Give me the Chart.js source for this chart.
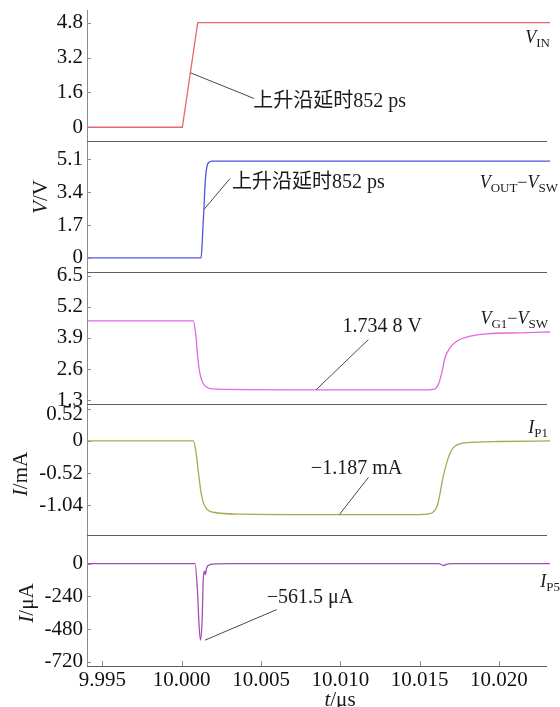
<!DOCTYPE html>
<html><head><meta charset="utf-8">
<script src="https://cdn.jsdelivr.net/npm/chart.js@4"></script>
<style>html,body{margin:0;padding:0;background:#fff}canvas{display:block}</style>
</head><body>
<canvas id="c" width="560" height="707"></canvas>
<script>
// ---------- data (time in µs) ----------
const tVin  = [9.994, 10.00004, 10.00101, 10.0235];
const vVin  = [0, 0, 4.8, 4.8];

const tVout = [9.994, 10.00122, 10.00128, 10.00134, 10.00140, 10.00146, 10.00152, 10.00160, 10.00170, 10.00190, 10.0235];
const vVout = [0, 0, 0.6, 1.6, 2.5, 3.6, 4.3, 4.75, 4.93, 5.0, 5.0];

const tVg1  = [9.994, 10.00073, 10.0009, 10.00099, 10.00111, 10.00126, 10.00158, 10.0022, 10.0068, 10.0155, 10.01587, 10.01618, 10.0164, 10.0166, 10.01692, 10.01734, 10.01818, 10.01923, 10.02133, 10.0235];
const vVg1  = [4.61, 4.61, 3.96, 3.26, 2.56, 2.14, 1.84, 1.76, 1.735, 1.735, 1.75, 1.96, 2.45, 3.07, 3.49, 3.76, 3.97, 4.07, 4.11, 4.15];

const tIp1  = [9.994, 10.00073, 10.0009, 10.00105, 10.0012, 10.00136, 10.00158, 10.002, 10.00368, 10.0085, 10.0150, 10.01545, 10.01608, 10.0165, 10.01681, 10.01713, 10.01797, 10.020, 10.0235];
const vIp1  = [0, 0, -0.18, -0.50, -0.80, -0.99, -1.10, -1.15, -1.18, -1.187, -1.187, -1.18, -1.07, -0.56, -0.27, -0.11, -0.03, -0.01, 0];

const tIp5  = [9.994, 10.00084, 10.00099, 10.00109, 10.00118, 10.00128, 10.00136, 10.00143, 10.00149, 10.00158, 10.00178, 10.0022, 10.003, 10.0162, 10.0165, 10.0168, 10.0172, 10.0235];
const vIp5  = [0, 0, -192, -440, -561.5, -438, -117, -55, -80, -30, -8, -2, 0, 0, -14, -2, 0, 0];

// ---------- ticks ----------
const xTicks = [9.995, 10.000, 10.005, 10.010, 10.015, 10.020];
const xTickLabels = ['9.995', '10.000', '10.005', '10.010', '10.015', '10.020'];
const vinTicks = [0, 1.6, 3.2, 4.8];        const vinTickLabels = ['0', '1.6', '3.2', '4.8'];
const voutTicks = [0, 1.7, 3.4, 5.1];       const voutTickLabels = ['0', '1.7', '3.4', '5.1'];
const vg1Ticks = [1.3, 2.6, 3.9, 5.2, 6.5]; const vg1TickLabels = ['1.3', '2.6', '3.9', '5.2', '6.5'];
const ip1Ticks = [-1.04, -0.52, 0, 0.52];   const ip1TickLabels = ['-1.04', '-0.52', '0', '0.52'];
const ip5Ticks = [-720, -480, -240, 0];     const ip5TickLabels = ['-720', '-480', '-240', '0'];

// ---------- annotations (data coordinates) ----------
const annotations = [
  { axis: 'p1', from: [10.00055, 2.5], to: [10.00456, 1.32], text: '上升沿延时852 ps', at: [10.00451, 1.16], align: 'left' },
  { axis: 'p2', from: [10.0014, 2.5], to: [10.00305, 4.10], text: '上升沿延时852 ps', at: [10.00317, 3.86], align: 'left' },
  { axis: 'p3', from: [10.00847, 1.7348], to: [10.01177, 3.83], text: '1.734 8 V', at: [10.01265, 4.38], align: 'center' },
  { axis: 'p4', from: [10.00994, -1.187], to: [10.01177, -0.589], text: '\u22121.187 mA', at: [10.01102, -0.444], align: 'center' },
  { axis: 'p5', from: [10.00147, -561.5], to: [10.00599, -337.5], text: '\u2212561.5 \u03bcA', at: [10.00536, -251], align: 'left' }
];

const SERIF = "'Liberation Serif', 'Times New Roman', 'Noto Sans CJK SC', serif";
const pts = (ts, vs) => ts.map((t, i) => ({ x: t, y: vs[i] }));

function yScale(weight, min, max, ticks, labels, nudgeTop) {
  return {
    type: 'linear', position: 'left', stack: 'panels', stackWeight: 1, weight,
    min, max,
    grid: { display: false, drawTicks: false }, border: { display: false },
    afterFit: s => { s.width = 87; s.paddingTop = 0; s.paddingBottom = 0; },
    afterBuildTicks: s => { s.ticks = ticks.map(v => ({ value: v })); },
    ticks: { autoSkip: false, padding: 4, color: '#111',
      font: { family: SERIF, size: 21, lineHeight: nudgeTop ? 0.55 : 1.2 },
      callback: (v, i) => (nudgeTop && i === labels.length - 1) ? ['', labels[i]] : labels[i] }
  };
}

function ds(label, data, color, axis, mode) {
  return { label, data, yAxisID: axis, xAxisID: 'x', borderColor: color, borderWidth: 1.3,
    pointRadius: 0, fill: false, cubicInterpolationMode: mode || 'monotone', tension: 0 };
}

function fontOf(p, size, sub) {
  return (p.i ? 'italic ' : '') + (p.sub ? sub : size) + 'px ' + SERIF;
}
function drawRich(ctx, parts, x, y, align, size, sub, subOff) {
  let w = 0;
  parts.forEach(p => { ctx.font = fontOf(p, size, sub); w += ctx.measureText(p.t).width; });
  let cx = align === 'right' ? x - w : align === 'center' ? x - w / 2 : x;
  parts.forEach(p => {
    ctx.font = fontOf(p, size, sub);
    ctx.fillText(p.t, cx, p.sub ? y + subOff : y);
    cx += ctx.measureText(p.t).width;
  });
}

const seriesLabels = [
  { axis: 'p1', v: 4.14, dx: 0,  parts: [{ t: 'V', i: 1 }, { t: 'IN', sub: 1 }] },
  { axis: 'p2', v: 3.91, dx: 8,  parts: [{ t: 'V', i: 1 }, { t: 'OUT', sub: 1 }, { t: '\u2212' }, { t: 'V', i: 1 }, { t: 'SW', sub: 1 }] },
  { axis: 'p3', v: 4.74, dx: -2, parts: [{ t: 'V', i: 1 }, { t: 'G1', sub: 1 }, { t: '\u2212' }, { t: 'V', i: 1 }, { t: 'SW', sub: 1 }] },
  { axis: 'p4', v: 0.22, dx: -2, parts: [{ t: 'I', i: 1 }, { t: 'P1', sub: 1 }] },
  { axis: 'p5', v: -131, dx: 10, parts: [{ t: 'I', i: 1 }, { t: 'P5', sub: 1 }] }
];

const decor = {
  id: 'decor',
  afterDraw(chart) {
    const ctx = chart.ctx, ca = chart.chartArea, xs = chart.scales.x;
    const ids = ['p1', 'p2', 'p3', 'p4', 'p5'];
    ctx.save();
    ctx.lineWidth = 1;
    // left axis
    ctx.strokeStyle = '#8c8c8c';
    ctx.beginPath(); ctx.moveTo(ca.left + 0.5, ca.top); ctx.lineTo(ca.left + 0.5, ca.bottom); ctx.stroke();
    // separators + x axis
    ctx.strokeStyle = '#5e5e5e';
    ids.forEach(id => {
      const yb = Math.round(chart.scales[id].bottom) + 0.5;
      ctx.beginPath(); ctx.moveTo(ca.left, yb); ctx.lineTo(ca.right - 3, yb); ctx.stroke();
    });
    // y tick marks
    ctx.strokeStyle = '#8c8c8c';
    ids.forEach(id => {
      const s = chart.scales[id];
      s.ticks.forEach(tk => {
        const y = Math.round(s.getPixelForValue(tk.value)) + 0.5;
        ctx.beginPath(); ctx.moveTo(ca.left, y); ctx.lineTo(ca.left + 4, y); ctx.stroke();
      });
    });
    // x tick marks
    xTicks.forEach(v => {
      const x = Math.round(xs.getPixelForValue(v)) + 0.5;
      ctx.beginPath(); ctx.moveTo(x, ca.bottom); ctx.lineTo(x, ca.bottom - 5); ctx.stroke();
    });
    // annotations
    ctx.fillStyle = '#1a1a1a';
    annotations.forEach(a => {
      const ys = chart.scales[a.axis];
      ctx.strokeStyle = '#4a4a4a';
      ctx.beginPath();
      ctx.moveTo(xs.getPixelForValue(a.from[0]), ys.getPixelForValue(a.from[1]));
      ctx.lineTo(xs.getPixelForValue(a.to[0]), ys.getPixelForValue(a.to[1]));
      ctx.stroke();
      ctx.font = '20px ' + SERIF;
      ctx.textAlign = a.align; ctx.textBaseline = 'middle';
      ctx.fillText(a.text, xs.getPixelForValue(a.at[0]), ys.getPixelForValue(a.at[1]));
    });
    // series labels
    ctx.textAlign = 'left'; ctx.textBaseline = 'alphabetic';
    seriesLabels.forEach(l => {
      const y = chart.scales[l.axis].getPixelForValue(l.v) + 6;
      drawRich(ctx, l.parts, ca.right + l.dx, y, 'right', 18, 13, 4);
    });
    // axis titles
    const rot = (parts, cx, cy) => {
      ctx.save(); ctx.translate(cx, cy); ctx.rotate(-Math.PI / 2);
      drawRich(ctx, parts, 0, 6.8, 'center', 21, 21, 0); ctx.restore();
    };
    rot([{ t: 'V', i: 1 }, { t: '/V' }], 40, 197);
    rot([{ t: 'I', i: 1 }, { t: '/mA' }], 20, 474);
    rot([{ t: 'I', i: 1 }, { t: '/\u03bcA' }], 26, 603);
    drawRich(ctx, [{ t: 't', i: 1 }, { t: '/\u03bcs' }], 340, 706, 'center', 21, 21, 0);
    ctx.restore();
  }
};

new Chart(document.getElementById('c'), {
  type: 'line',
  data: {
    datasets: [
      ds('VIN', pts(tVin, vVin), '#e8676a', 'p1', 'default'),
      ds('VOUT-VSW', pts(tVout, vVout), '#5252e4', 'p2'),
      ds('VG1-VSW', pts(tVg1, vVg1), '#e466e4', 'p3'),
      ds('IP1', pts(tIp1, vIp1), '#a9a654', 'p4'),
      ds('IP5', pts(tIp5, vIp5), '#a24eb0', 'p5')
    ]
  },
  options: {
    responsive: false, animation: false,
    layout: { padding: { left: 0, right: 10, top: 10, bottom: 0 } },
    plugins: { legend: { display: false }, tooltip: { enabled: false } },
    scales: {
      x: {
        type: 'linear', position: 'bottom', min: 9.99403, max: 10.02322,
        grid: { display: false, drawTicks: false }, border: { display: false },
        afterFit: s => { s.height = 41; s.paddingLeft = 0; s.paddingRight = 0; },
        afterBuildTicks: s => { s.ticks = xTicks.map(v => ({ value: v })); },
        ticks: { autoSkip: false, maxRotation: 0, padding: 2, color: '#111',
          font: { family: SERIF, size: 21 }, callback: (v, i) => xTickLabels[i] }
      },
      p1: yScale(5, -0.64, 5.38, vinTicks, vinTickLabels),
      p2: yScale(4, -0.75, 6.03, voutTicks, voutTickLabels),
      p3: yScale(3, 1.16, 6.63, vg1Ticks, vg1TickLabels),
      p4: yScale(2, -1.513, 0.60, ip1Ticks, ip1TickLabels, true),
      p5: yScale(1, -751, 211, ip5Ticks, ip5TickLabels)
    }
  },
  plugins: [decor]
});
</script>
</body></html>
